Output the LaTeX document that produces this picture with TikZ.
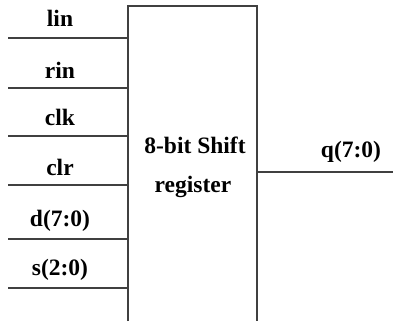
\documentclass[tikz,border=0pt]{standalone}
\usepackage{fontspec}
\setmainfont{Liberation Serif}
\begin{document}
\begin{tikzpicture}[x=1pt,y=-1pt,
  wire/.style={draw=black!75,line width=1.2pt},
  lbl/.style={font=\bfseries\fontsize{23.5}{26}\selectfont,inner sep=0pt,anchor=base},
]
\useasboundingbox (0,0) rectangle (393,321);
% box
\coordinate (bl) at (128,321);
\coordinate (tl) at (128,6);
\coordinate (tr) at (257,6);
\coordinate (br) at (257,321);
\draw[wire] (bl) -- (tl) -- (tr) -- (br);
\node[lbl] (t1) at (195,153) {8-bit Shift};
\node[lbl] (t2) at (193,192) {register};
% inputs
\foreach \n/\y/\ty/\t in {a/38/27/lin, b/88/78/rin, c/136/125/clk, d/185/175/clr, e/239/226/d(7:0), f/288/275/s(2:0)}{
  \coordinate (s\n) at (8,\y);
  \coordinate (e\n) at (128,\y);
  \draw[wire] (s\n) -- (e\n);
  \node[lbl] (l\n) at (60,\ty) {\t};
}
% output
\coordinate (os) at (257,172);
\coordinate (oe) at (393,172);
\draw[wire] (os) -- (oe);
\node[lbl] (q) at (351,157) {q(7:0)};
\end{tikzpicture}
\end{document}
